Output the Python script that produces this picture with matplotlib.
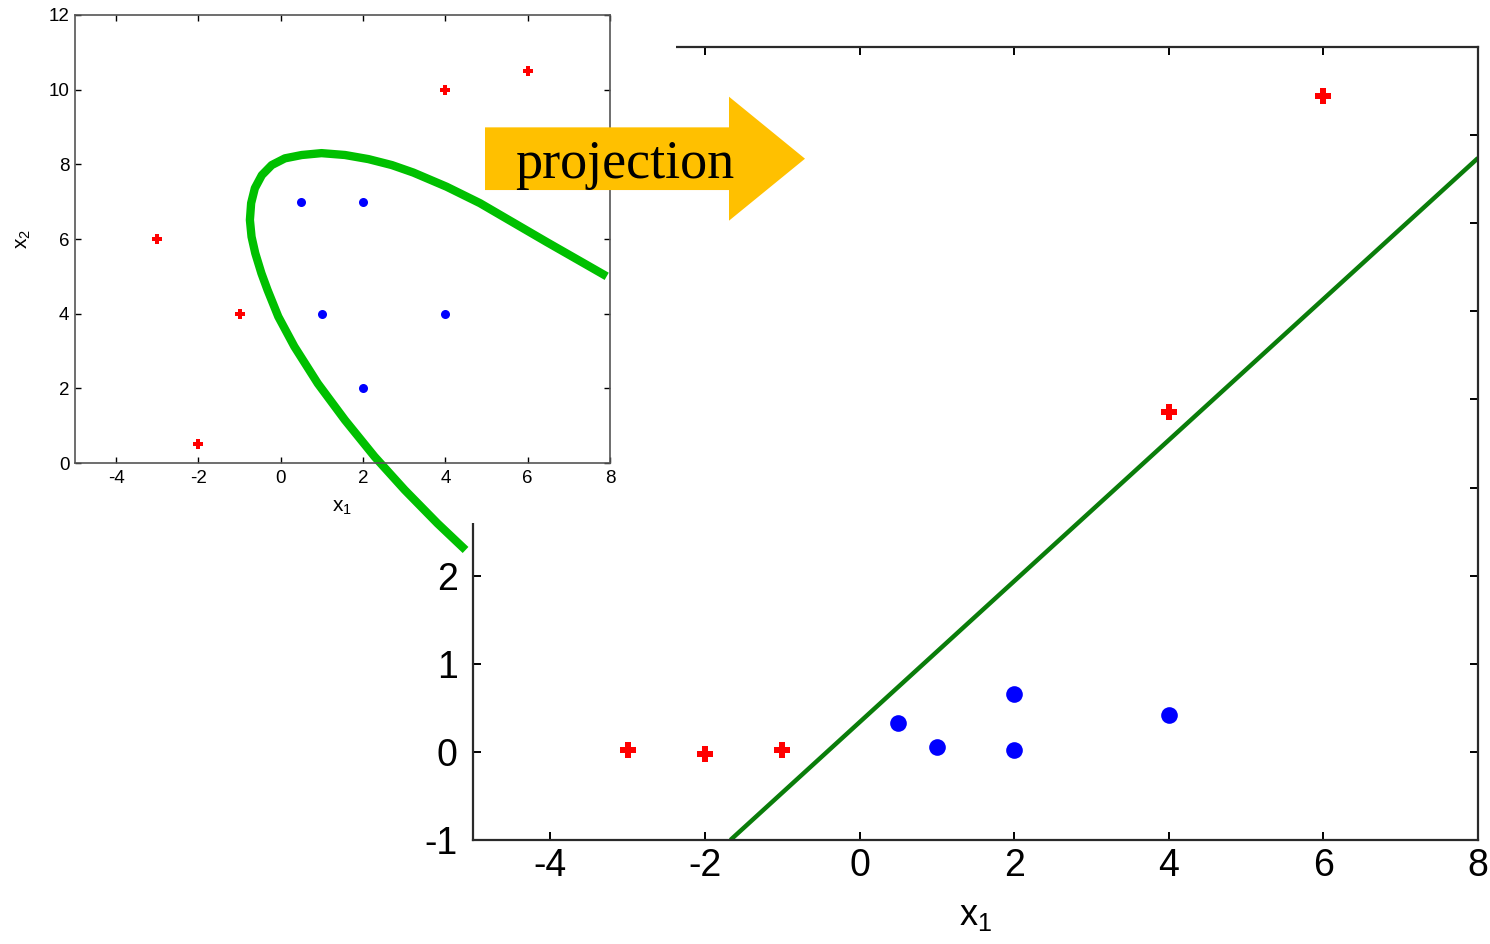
import matplotlib
matplotlib.use('Agg')
import matplotlib.pyplot as plt
from matplotlib.patches import Rectangle, FancyArrow

plt.rcParams['font.family'] = ['Liberation Sans', 'DejaVu Sans']
plt.rcParams['mathtext.default'] = 'regular'
plt.rcParams['axes.unicode_minus'] = False

# original space (small plot)
red_x = [-3, -1, -2, 4, 6]
red_y = [6, 4, 0.5, 10, 10.5]
blue_x = [0.5, 2, 1, 4, 2]
blue_y = [7, 7, 4, 4, 2]

# decision boundary in original space
curve_x = [7.92, 7.27, 6.46, 5.65, 4.84, 4.03, 3.22, 2.70, 2.13, 1.56, 0.99, 0.51,
           0.10, -0.22, -0.46, -0.63, -0.72, -0.75, -0.71, -0.62, -0.47, -0.32,
           -0.06, 0.33, 0.90, 1.56, 2.28, 3.01, 3.81, 4.49]
curve_y = [5.00, 5.41, 5.92, 6.44, 6.96, 7.40, 7.78, 7.98, 8.14, 8.25, 8.30, 8.25,
           8.16, 7.98, 7.71, 7.36, 6.96, 6.51, 6.06, 5.62, 5.08, 4.63,
           3.92, 3.12, 2.13, 1.15, 0.17, -0.72, -1.62, -2.33]

# projected space (big plot)
proj_red_x = [-3, -2, -1, 4, 6]
proj_red_y = [0.02, -0.02, 0.02, 3.86, 7.44]
proj_blue_x = [0.5, 1, 2, 2, 4]
proj_blue_y = [0.33, 0.06, 0.66, 0.02, 0.42]

line_x = [-1.67, 8]
line_y = [-1, 6.74]

big_yticks = list(range(-1, 9))
# only the lower labels are visible, the rest sit under the small plot
big_ylabels = ['-1', '0', '1', '2', '', '', '', '', '', '']

W, H = 1490, 944
fig = plt.figure(figsize=(W / 100, H / 100), dpi=100)

# big axes
ax = fig.add_axes([473 / W, 104 / H, 1005 / W, 793 / H], zorder=0)
ax.plot(line_x, line_y, color='#0a7d0a', lw=3.2, solid_capstyle='butt')
ax.plot(proj_red_x, proj_red_y, 'P', color='red', ms=12, mew=0)
ax.plot(proj_blue_x, proj_blue_y, 'o', color='blue', ms=12, mew=0)
ax.set_xlim(-5, 8)
ax.set_ylim(-1, 8)
ax.set_xticks(range(-4, 9, 2))
ax.set_yticks(big_yticks)
ax.set_yticklabels(big_ylabels)
ax.tick_params(direction='in', length=6, width=1.4, top=True, right=True,
               labelsize=27, colors='black')
ax.tick_params(axis='x', pad=6)
ax.tick_params(axis='y', pad=11)
for s in ax.spines.values():
    s.set_linewidth(1.6)
    s.set_color('#2a2a2a')
ax.set_xlabel('$x_1$', fontsize=26, labelpad=10)

# white cover over the top-left part of the big plot
fig.add_artist(Rectangle((0, 1 - 523 / H), 676 / W, 523 / H, transform=fig.transFigure,
                         facecolor='white', edgecolor='none', zorder=1))

# small axes
ax2 = fig.add_axes([75 / W, (H - 463) / H, 535 / W, 448 / H], zorder=2)
ax2.plot(curve_x, curve_y, color='#00c000', lw=6, clip_on=False,
         solid_capstyle='butt', solid_joinstyle='round')
ax2.plot(red_x, red_y, 'P', color='red', ms=7.5, mew=0)
ax2.plot(blue_x, blue_y, 'o', color='blue', ms=6.5, mew=0)
ax2.set_xlim(-5, 8)
ax2.set_ylim(0, 12)
ax2.set_xticks(range(-4, 9, 2))
ax2.set_yticks(range(0, 13, 2))
ax2.tick_params(direction='in', length=4, width=1, top=True, right=True,
                labelsize=13.5)
ax2.tick_params(axis='x', pad=5)
ax2.tick_params(axis='y', pad=4)
for s in ax2.spines.values():
    s.set_linewidth(1.2)
    s.set_color('#555555')
ax2.set_xlabel('$x_1$', fontsize=15, labelpad=8)
ax2.set_ylabel('$x_2$', fontsize=15, labelpad=11)

# projection arrow
fig.add_artist(FancyArrow(485 / W, 1 - 158.7 / H, 320 / W, 0, width=62.7 / H,
                          head_width=124 / H, head_length=76 / W,
                          length_includes_head=True, transform=fig.transFigure,
                          facecolor='#ffc000', edgecolor='none', zorder=3))
fig.text(625 / W, 1 - 178.3 / H, 'projection', ha='center', va='baseline',
         fontsize=39, family='Liberation Serif', zorder=4)

fig.savefig('out.png', dpi=100)
